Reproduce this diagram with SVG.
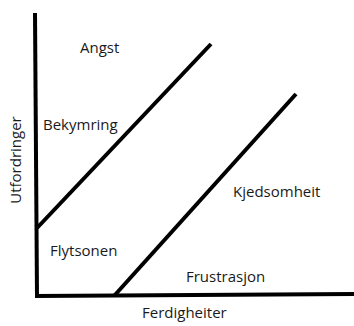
<svg xmlns="http://www.w3.org/2000/svg" width="354" height="326" viewBox="0 0 354 326">
<style>
.lbl{font-family:"Open Sans","Noto Sans",sans-serif;font-size:15px;fill:#1a1a1a}
.ln{stroke:#000;stroke-width:4;fill:none;stroke-linecap:butt}
</style>
<rect width="354" height="326" fill="#fff"/>
<g id="axes">
<line class="ln" x1="35" y1="13" x2="37" y2="297"/>
<line class="ln" x1="35" y1="296" x2="354" y2="294"/>
</g>
<g id="connectors">
<line class="ln" x1="37" y1="228" x2="211" y2="44"/>
<line class="ln" x1="114" y1="296" x2="296" y2="94"/>
</g>
<g id="angst"><text class="lbl" x="80" y="53">Angst</text></g>
<g id="bekymring"><text class="lbl" x="43" y="130">Bekymring</text></g>
<g id="kjedsomheit"><text class="lbl" x="233" y="197">Kjedsomheit</text></g>
<g id="flytsonen"><text class="lbl" x="50" y="256">Flytsonen</text></g>
<g id="frustrasjon"><text class="lbl" x="186" y="282">Frustrasjon</text></g>
<g id="ferdigheiter"><text class="lbl" x="142" y="318">Ferdigheiter</text></g>
<g id="utfordringer"><text class="lbl" transform="translate(21,160) rotate(-90)" text-anchor="middle">Utfordringer</text></g>
</svg>
